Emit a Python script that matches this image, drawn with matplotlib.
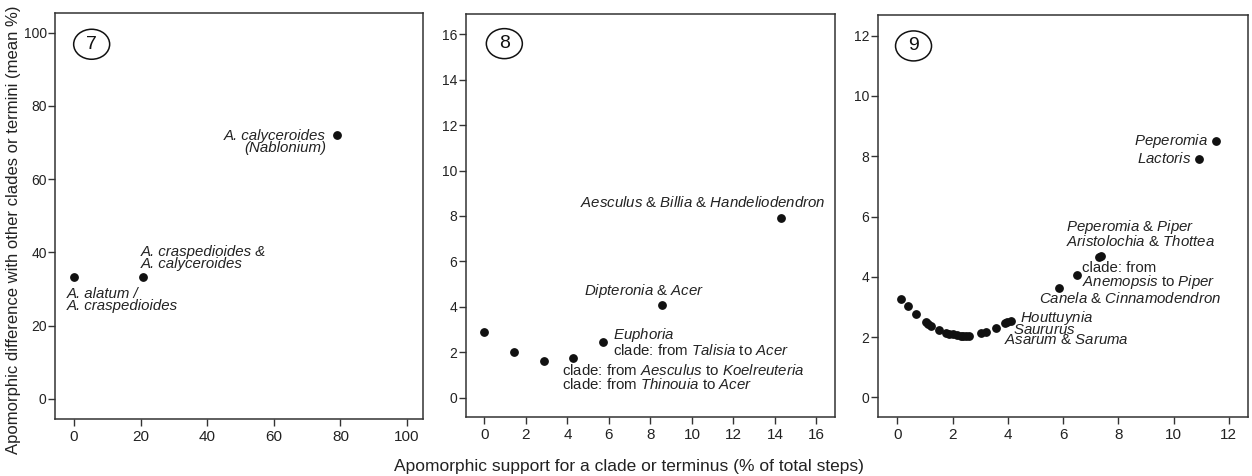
import matplotlib
matplotlib.use('Agg')
import matplotlib.pyplot as plt
from matplotlib.patches import Ellipse

plt.rcParams['font.family'] = ['Liberation Sans', 'DejaVu Sans']
plt.rcParams['mathtext.fontset'] = 'custom'
plt.rcParams['mathtext.rm'] = 'Liberation Sans'
plt.rcParams['mathtext.it'] = 'Liberation Sans:italic'

# panel 7
x7 = [0, 20.8, 79]
y7 = [33.3, 33.3, 72.2]

# panel 8
x8 = [0, 1.43, 2.86, 4.29, 5.71, 8.57, 14.29]
y8 = [2.87, 2.0, 1.63, 1.75, 2.45, 4.1, 7.93]

# panel 9
x9 = [0.13, 0.40, 0.69, 1.05, 1.13, 1.22, 1.52, 1.76, 1.86, 2.00, 2.16, 2.30,
      2.39, 2.48, 2.61, 3.02, 3.20, 3.56, 3.90, 3.98, 4.10, 5.84, 6.50, 7.31,
      7.36, 10.93, 11.53]
y9 = [3.26, 3.03, 2.77, 2.49, 2.42, 2.37, 2.23, 2.15, 2.11, 2.09, 2.06, 2.04,
      2.02, 2.02, 2.04, 2.12, 2.17, 2.29, 2.46, 2.50, 2.54, 3.62, 4.06, 4.67,
      4.70, 7.92, 8.50]

xticks7 = [0, 20, 40, 60, 80, 100]
yticks7 = [0, 20, 40, 60, 80, 100]
ticks8 = [0, 2, 4, 6, 8, 10, 12, 14, 16]
ticks9 = [0, 2, 4, 6, 8, 10, 12]

fig = plt.figure(figsize=(12.52, 4.76), dpi=100)
ax1 = fig.add_axes([0.0439, 0.1197, 0.294, 0.853])
ax2 = fig.add_axes([0.372, 0.124, 0.295, 0.847])
ax3 = fig.add_axes([0.701, 0.1246, 0.2955, 0.843])

dot = dict(linestyle='none', marker='o', ms=5.3, color='#111111')
ax1.plot(x7, y7, **dot)
ax2.plot(x8, y8, **dot)
ax3.plot(x9, y9, **dot)

ax1.set_xlim(-5.7, 104.8)
ax1.set_ylim(-5.5, 105.4)
ax1.set_xticks(xticks7)
ax1.set_yticks(yticks7)
ax2.set_xlim(-0.9, 16.9)
ax2.set_ylim(-0.85, 16.9)
ax2.set_xticks(ticks8)
ax2.set_yticks(ticks8)
ax3.set_xlim(-0.71, 12.68)
ax3.set_ylim(-0.64, 12.67)
ax3.set_xticks(ticks9)
ax3.set_yticks(ticks9)

for ax, num, cx, cy in [(ax1, '7', 0.0997, 0.923), (ax2, '8', 0.1045, 0.926),
                        (ax3, '9', 0.097, 0.924)]:
    for s in ax.spines.values():
        s.set_linewidth(1.1)
        s.set_color('#333333')
    ax.tick_params(direction='out', length=5, width=1, colors='#333333',
                   labelcolor='#222222')
    ax.tick_params(axis='x', labelsize=11, pad=3)
    ax.tick_params(axis='y', labelsize=10, pad=1)
    bb = ax.get_position()
    w = 36 / (bb.width * 1252)
    h = 30 / (bb.height * 476)
    ax.add_patch(Ellipse((cx, cy), w, h, transform=ax.transAxes, fc='white',
                         ec='#111111', lw=1.1))
    ax.text(cx, cy, num, transform=ax.transAxes, ha='center', va='center',
            fontsize=14, color='#111111')

fs = 10.8
tc = '#222222'


def lab(ax, text, x, y, dx, dy, ha, va, italic=False):
    ax.annotate(text, xy=(x, y), xytext=(dx, dy), textcoords='offset points',
                ha=ha, va=va, fontsize=fs, color=tc,
                style='italic' if italic else 'normal', linespacing=0.85)


lab(ax1, 'A. calyceroides\n(Nablonium)', x7[2], y7[2], -8, 4, 'right', 'top', True)
lab(ax1, 'A. craspedioides &\nA. calyceroides', x7[1], y7[1], -2, 4, 'left', 'bottom', True)
lab(ax1, 'A. alatum /\nA. craspedioides', x7[0], y7[0], -5, -7, 'left', 'top', True)

lab(ax2, r'$\mathit{Aesculus}$ & $\mathit{Billia}$ & $\mathit{Handeliodendron}$',
    x8[6], y8[6], 32, 5.5, 'right', 'bottom')
lab(ax2, r'$\mathit{Dipteronia}$ & $\mathit{Acer}$', x8[5], y8[5], -13, 3.5, 'center', 'bottom')
lab(ax2, '$\\mathit{Euphoria}$\nclade: from $\\mathit{Talisia}$ to $\\mathit{Acer}$',
    x8[4], y8[4], 7, 0, 'left', 'center')
lab(ax2, 'clade: from $\\mathit{Aesculus}$ to $\\mathit{Koelreuteria}$\n'
         'clade: from $\\mathit{Thinouia}$ to $\\mathit{Acer}$',
    x8[3], y8[3], -8, -4, 'left', 'top')

lab(ax3, r'$\mathit{Peperomia}$', x9[26], y9[26], -5.5, 0, 'right', 'center')
lab(ax3, r'$\mathit{Lactoris}$', x9[25], y9[25], -5.5, 0, 'right', 'center')
lab(ax3, '$\\mathit{Peperomia}$ & $\\mathit{Piper}$\n$\\mathit{Aristolochia}$ & $\\mathit{Thottea}$',
    x9[24], y9[24], -25, 4.5, 'left', 'bottom')
lab(ax3, 'clade: from\n$\\mathit{Anemopsis}$ to $\\mathit{Piper}$', x9[22], y9[22], 3.4, -0.5,
    'left', 'center')
lab(ax3, r'$\mathit{Canela}$ & $\mathit{Cinnamodendron}$', x9[21], y9[21], -14, -2, 'left', 'top')
lab(ax3, r'$\mathit{Houttuynia}$', x9[20], y9[20], 6.7, 2, 'left', 'center')
lab(ax3, r'$\mathit{Saururus}$', x9[19], y9[19], 4, -5.5, 'left', 'center')
lab(ax3, r'$\mathit{Asarum}$ & $\mathit{Saruma}$', x9[18], y9[18], -1, -12.4, 'left', 'center')

fig.text(0.011, 0.517, 'Apomorphic difference with other clades or termini (mean %)',
         rotation=90, ha='center', va='center', fontsize=12, color=tc)
fig.text(0.502, 0.021, 'Apomorphic support for a clade or terminus (% of total steps)',
         ha='center', va='center', fontsize=12.5, color=tc)

fig.savefig('out.png', dpi=100)
